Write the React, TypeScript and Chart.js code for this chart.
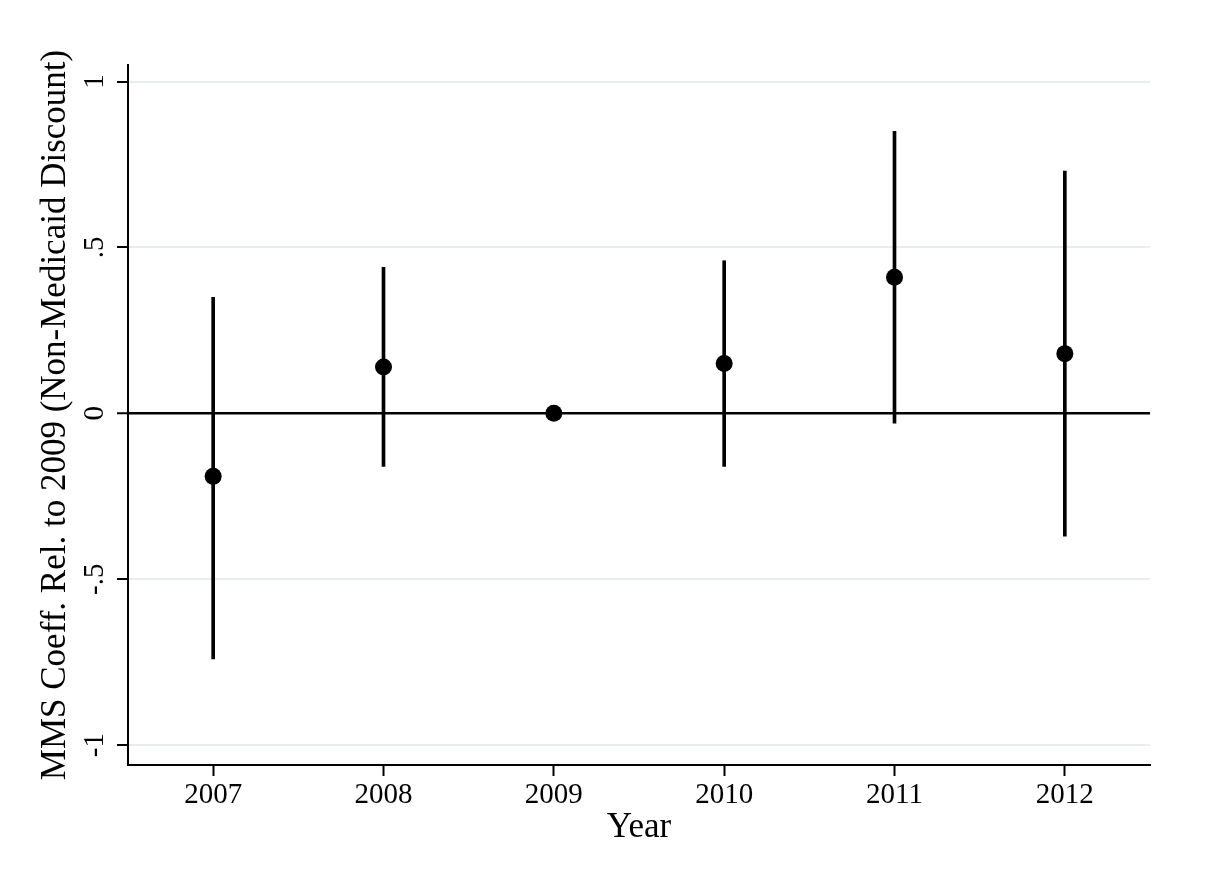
import { useEffect, useRef } from "react";
import { Chart, registerables } from "chart.js";

Chart.register(...registerables);

const years = [2007, 2008, 2009, 2010, 2011, 2012];
const coef = [-0.19, 0.14, 0, 0.15, 0.41, 0.18];
const ciLow = [-0.74, -0.16, null, -0.16, -0.03, -0.37];
const ciHigh = [0.35, 0.44, null, 0.46, 0.85, 0.73];
const yTicks = [-1, -0.5, 0, 0.5, 1];

const FONT = "'Liberation Serif', 'Times New Roman', serif";

// Stata style: ".5" rather than "0.5"
const stataNum = (v: number) => {
  if (v === 0) return "0";
  const s = String(v);
  return s.replace(/^(-?)0\./, "$1.");
};

export default function App() {
  const canvasRef = useRef<HTMLCanvasElement>(null);
  const chartRef = useRef<Chart | null>(null);

  useEffect(() => {
    document.body.style.margin = "0";
    if (!canvasRef.current) return;
    const ctx = canvasRef.current.getContext("2d");
    if (!ctx) return;

    if (chartRef.current) {
      chartRef.current.destroy();
      chartRef.current = null;
    }

    chartRef.current = new Chart(ctx, {
      type: "bar",
      data: {
        datasets: [
          {
            type: "bar",
            label: "95% CI",
            data: years
              .map((yr, i) => ({ x: yr, y: [ciLow[i], ciHigh[i]] }))
              .filter((d) => d.y[0] !== null) as any,
            backgroundColor: "#000",
            borderWidth: 0,
            barThickness: 3,
            order: 2,
          },
          {
            type: "scatter",
            label: "Coefficient",
            data: years.map((yr, i) => ({ x: yr, y: coef[i] })),
            backgroundColor: "#000",
            borderColor: "#000",
            pointRadius: 8.5,
            pointBorderWidth: 0,
            order: 1,
          },
        ],
      },
      options: {
        responsive: true,
        maintainAspectRatio: false,
        animation: false,
        layout: { padding: { left: 0, top: 65, right: 58, bottom: 0 } },
        plugins: {
          legend: { display: false },
          tooltip: { enabled: false },
        },
        scales: {
          x: {
            type: "linear",
            min: 2006.5,
            max: 2012.5,
            offset: false,
            afterBuildTicks: (scale) => {
              scale.ticks = years.map((v) => ({ value: v }));
            },
            afterFit: (scale) => {
              scale.height = 110;
            },
            grid: {
              offset: false,
              drawOnChartArea: false,
              tickLength: 11,
              tickColor: "#000",
              tickWidth: 2,
            },
            border: { display: true, color: "#000", width: 2 },
            ticks: {
              color: "#000",
              font: { family: FONT, size: 29 },
              padding: 2,
              maxRotation: 0,
              callback: (v) => String(v),
            },
            title: {
              display: true,
              text: "Year",
              color: "#000",
              font: { family: FONT, size: 35 },
              padding: { top: 0, bottom: 26 },
            },
          },
          y: {
            type: "linear",
            min: -1.06,
            max: 1.05,
            afterBuildTicks: (scale) => {
              scale.ticks = yTicks.map((v) => ({ value: v }));
            },
            afterFit: (scale) => {
              scale.width = 128;
            },
            grid: {
              color: (c) => (c.tick && c.tick.value === 0 ? "#000" : "#e6eef2"),
              lineWidth: (c) => (c.tick && c.tick.value === 0 ? 2.5 : 2),
              tickLength: 11,
              tickColor: "#000",
              tickWidth: 2,
            },
            border: { display: true, color: "#000", width: 2 },
            ticks: {
              color: "#000",
              font: { family: FONT, size: 29 },
              padding: 6,
              minRotation: 90,
              maxRotation: 90,
              crossAlign: "center",
              callback: (v) => stataNum(Number(v)),
            },
            title: {
              display: true,
              text: "MMS Coeff. Rel. to 2009 (Non-Medicaid Discount)",
              color: "#000",
              font: { family: FONT, size: 35 },
              padding: { top: 35, bottom: 0 },
            },
          },
        },
      },
    });

    return () => {
      chartRef.current?.destroy();
      chartRef.current = null;
    };
  }, []);

  return (
    <div style={{ position: "relative", width: "1208px", height: "875px", background: "#fff" }}>
      <canvas ref={canvasRef} />
    </div>
  );
}
